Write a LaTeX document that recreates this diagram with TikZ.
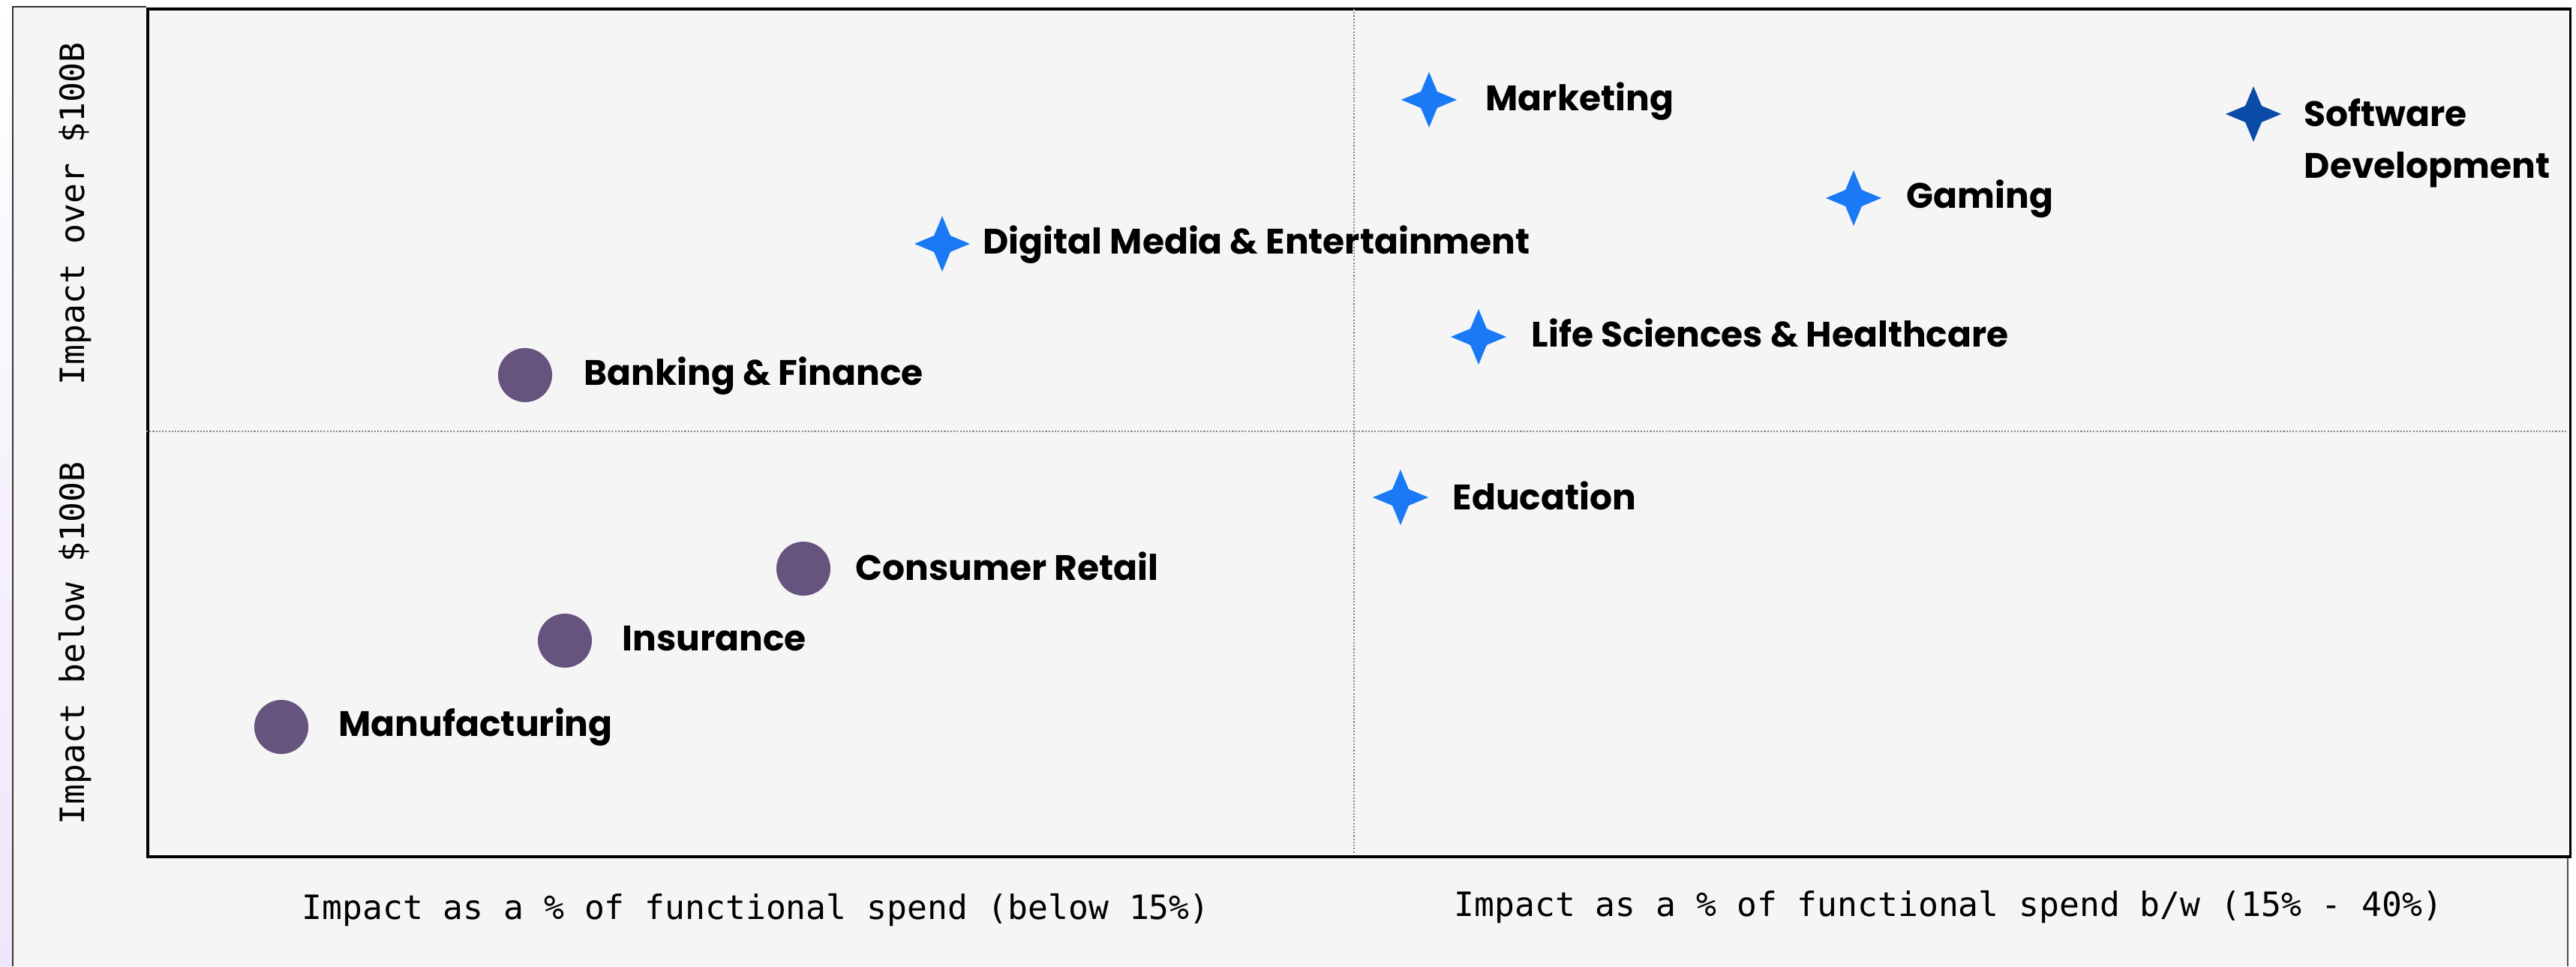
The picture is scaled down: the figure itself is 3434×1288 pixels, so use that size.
\documentclass[tikz,border=0pt]{standalone}
\usepackage{fontspec}
\setmainfont{Poppins}
\newfontfamily\monof{DejaVu Sans Mono}
\usetikzlibrary{shapes.geometric}
\definecolor{bgc}{HTML}{F5F5F5}
\definecolor{lav}{HTML}{EFE6FB}
\definecolor{starblue}{HTML}{1A7AF5}
\definecolor{stardark}{HTML}{0A4BA8}
\definecolor{dotpurple}{HTML}{66547F}
\definecolor{gridgray}{HTML}{8A8A8A}
\begin{document}
\begin{tikzpicture}[x=0.01cm,y=-0.01cm,
  sparkle/.style={star, star points=4, star point ratio=2.4, minimum size=0.74cm, inner sep=0pt, fill=starblue, draw=none},
  dotmark/.style={circle, minimum size=0.72cm, inner sep=0pt, fill=dotpurple, draw=none},
  lbl/.style={font=\fontsize{13.4}{19.9}\selectfont\bfseries, anchor=base west, inner sep=0pt, text=black},
  axlbl/.style={font=\monof\fontsize{12.7}{14}\selectfont, inner sep=0pt, text=black},
  gridline/.style={gridgray, line width=0.6pt, dash pattern=on 0.6pt off 0.6pt}
]
\useasboundingbox (0,0) rectangle (3434,1288);
\fill[white] (0,0) rectangle (3434,1288);
\shade[top color=white, bottom color=lav] (0,0) rectangle (17,1288);
\fill[bgc] (17,9) rectangle (3423,1288);
\draw[black!80, line width=0.6pt] (17,1288) -- (17,9) -- (195,9);
\draw[black!70, line width=0.6pt] (3423,1140) -- (3423,1288);
% plot frame
\node[draw=black, line width=1pt, fill=bgc, minimum width=32.28cm, minimum height=11.29cm, inner sep=0pt, anchor=north west] (frame) at (195,10.5) {};
% quadrant lines
\coordinate (hl) at (195,575);
\coordinate (hr) at (3421,575);
\coordinate (vt) at (1805,12);
\coordinate (vb) at (1805,1138);
\draw[gridline] (hl) -- (hr);
\draw[gridline] (vt) -- (vb);
% axis labels
\node[axlbl, rotate=90, anchor=base west] (yover) at (112,514) {Impact over \$100B};
\node[axlbl, rotate=90, anchor=base west] (ybelow) at (112,1100) {Impact below \$100B};
\node[axlbl, anchor=base west] (xleft) at (402,1225) {Impact as a \% of functional spend (below 15\%)};
\node[axlbl, anchor=base west] (xright) at (1938,1221) {Impact as a \% of functional spend b/w (15\% - 40\%)};
% stars
\node[sparkle] (mkt) at (1905,133) {};
\node[lbl] (mktL) at (1980,148) {Marketing};
\node[sparkle, fill=stardark] (sw) at (3004,152) {};
\node[lbl, align=left] (swL) at (3071,238) {Software\\Development};
\node[sparkle] (gam) at (2471,264) {};
\node[lbl] (gamL) at (2541,277) {Gaming};
\node[sparkle] (dme) at (1256,325) {};
\node[lbl] (dmeL) at (1310,338) {Digital Media \& Entertainment};
\node[sparkle] (lsh) at (1971,449) {};
\node[lbl] (lshL) at (2041,462) {Life Sciences \& Healthcare};
\node[sparkle] (edu) at (1867,663) {};
\node[lbl] (eduL) at (1936,679) {Education};
% circles
\node[dotmark] (bank) at (700,500) {};
\node[lbl] (bankL) at (778,513) {Banking \& Finance};
\node[dotmark] (cons) at (1071,758) {};
\node[lbl] (consL) at (1140,773) {Consumer Retail};
\node[dotmark] (ins) at (753,854) {};
\node[lbl] (insL) at (829,867) {Insurance};
\node[dotmark] (man) at (375,969) {};
\node[lbl] (manL) at (451,981) {Manufacturing};
\end{tikzpicture}
\end{document}
